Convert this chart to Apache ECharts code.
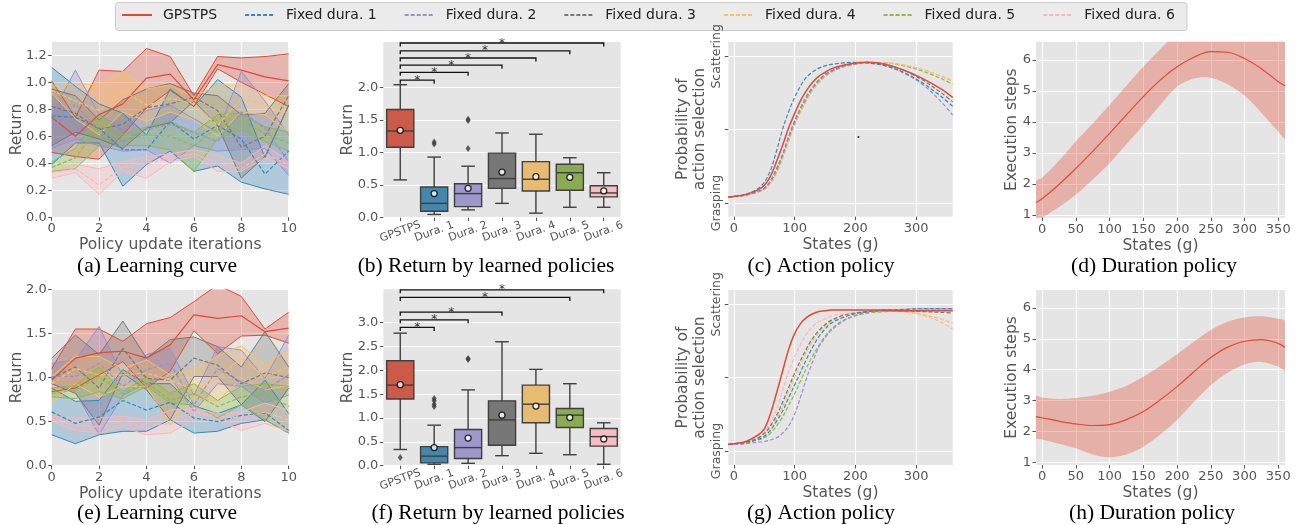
<!DOCTYPE html>
<html><head><meta charset="utf-8">
<script src="https://cdn.jsdelivr.net/npm/echarts@6/dist/echarts.min.js"></script>
<style>html,body{margin:0;padding:0;background:#fff}#chart{width:1301px;height:525px}</style>
</head><body><div id="chart"></div>
<script>
// ---------------- data ----------------
const seriesNames = ['GPSTPS','Fixed dura. 1','Fixed dura. 2','Fixed dura. 3','Fixed dura. 4','Fixed dura. 5','Fixed dura. 6'];
const lineColors = ['#E24A33','#348ABD','#988ED5','#777777','#FBC15E','#8EBA42','#FFB5B8'];
const boxColors = ['#cc5a49','#4586ac','#9e97cc','#777777','#e7bc72','#8aab51','#f6bec1'];
const captions = ['(a) Learning curve','(b) Return by learned policies','(c) Action policy','(d) Duration policy',
                  '(e) Learning curve','(f) Return by learned policies','(g) Action policy','(h) Duration policy'];

// learning curves (a) and (e)
const iterations = [0,1,2,3,4,5,6,7,8,9,10];
const aMean = [
 [0.74,0.60,0.76,0.84,1.03,1.06,0.87,1.13,1.09,1.04,1.01],
 [0.75,0.74,0.66,0.50,0.50,0.71,0.58,0.68,0.58,0.32,0.49],
 [0.66,0.84,0.63,0.56,0.65,0.69,0.63,0.56,0.78,0.66,0.41],
 [0.82,0.77,0.65,0.69,0.81,0.84,0.89,0.79,0.52,0.60,0.90],
 [0.94,0.86,0.79,0.94,0.83,0.88,0.84,0.68,0.88,0.83,0.77],
 [0.37,0.44,0.68,0.57,0.61,0.60,0.53,0.66,0.71,0.62,0.55],
 [0.33,0.36,0.24,0.37,0.40,0.44,0.47,0.40,0.36,0.47,0.39]
];
const aUpper = [
 [1.01,0.74,1.09,1.08,1.25,1.19,0.90,1.19,1.18,1.19,1.21],
 [1.11,0.97,0.84,0.77,0.61,0.95,0.82,1.02,0.89,0.44,0.83],
 [0.76,1.09,0.76,0.66,0.79,0.83,0.73,0.63,1.08,0.86,0.61],
 [0.95,0.90,0.72,0.87,0.95,0.99,0.92,0.90,0.76,0.77,0.99],
 [0.97,0.99,0.98,1.08,0.95,0.98,0.89,0.98,0.98,0.90,0.90],
 [0.41,0.51,0.76,0.61,0.67,0.71,0.63,0.76,0.77,0.67,0.63],
 [0.35,0.39,0.36,0.41,0.45,0.47,0.50,0.46,0.40,0.53,0.42]
];
const aLower = [
 [0.48,0.45,0.43,0.61,0.81,0.94,0.82,1.10,1.00,0.91,0.82],
 [0.39,0.55,0.55,0.23,0.39,0.49,0.34,0.38,0.26,0.21,0.17],
 [0.51,0.58,0.53,0.49,0.50,0.40,0.53,0.49,0.50,0.51,0.31],
 [0.53,0.63,0.58,0.51,0.66,0.70,0.86,0.68,0.29,0.45,0.83],
 [0.92,0.73,0.61,0.78,0.71,0.78,0.72,0.60,0.78,0.76,0.63],
 [0.34,0.36,0.53,0.53,0.53,0.50,0.34,0.58,0.65,0.56,0.49],
 [0.29,0.33,0.17,0.34,0.29,0.41,0.45,0.34,0.34,0.44,0.36]
];
const eMean = [
 [0.97,1.22,1.28,1.30,1.22,1.37,1.71,1.67,1.70,1.52,1.56],
 [0.61,0.48,0.55,0.74,0.63,0.72,0.54,0.50,0.57,0.60,0.40],
 [1.01,1.01,1.16,0.90,1.09,1.16,0.69,1.10,0.95,0.86,1.03],
 [0.99,1.12,0.88,1.33,0.99,0.97,1.22,1.14,0.93,1.05,1.00],
 [0.93,1.10,1.03,1.03,1.05,0.97,0.86,0.99,1.22,1.01,1.12],
 [0.82,0.86,1.01,0.82,0.95,0.74,0.82,0.67,0.78,0.82,0.67],
 [0.52,0.46,0.44,0.50,0.44,0.48,0.61,0.56,0.54,0.61,0.52]
];
const eUpper = [
 [1.10,1.55,1.55,1.41,1.61,1.68,1.86,2.05,1.92,1.55,1.74],
 [0.88,0.73,0.74,1.09,0.93,0.93,0.68,0.59,0.69,0.97,0.59],
 [1.16,1.20,1.58,1.01,1.26,1.33,0.80,1.35,1.31,0.99,1.48],
 [1.22,1.48,1.26,1.64,1.22,1.43,1.46,1.35,1.12,1.52,1.12],
 [1.01,1.24,1.24,1.10,1.20,1.03,1.09,1.24,1.36,1.14,1.33],
 [0.88,0.91,1.12,0.84,1.01,0.82,0.93,0.74,0.90,0.93,0.90],
 [0.56,0.54,0.54,0.56,0.52,0.63,0.65,0.59,0.61,0.71,0.63]
];
const eLower = [
 [0.84,0.88,1.03,1.18,0.88,1.07,1.53,1.27,1.47,1.48,1.39],
 [0.35,0.25,0.35,0.39,0.39,0.52,0.37,0.39,0.48,0.52,0.37],
 [0.93,0.84,0.35,0.80,0.93,1.01,0.61,0.93,0.90,0.71,0.80],
 [0.93,0.82,0.46,1.05,0.86,0.52,1.01,1.01,0.69,0.50,0.88],
 [0.71,0.93,0.78,0.90,0.90,0.46,0.78,0.73,0.99,0.86,0.91],
 [0.78,0.76,0.84,0.76,0.90,0.71,0.69,0.54,0.69,0.52,0.37],
 [0.50,0.40,0.37,0.44,0.35,0.37,0.52,0.52,0.40,0.48,0.39]
];
const learnXTicks = [0,2,4,6,8,10];
const aYTicks = [0,0.2,0.4,0.6,0.8,1.0,1.2];
const eYTicks = [0,0.5,1.0,1.5,2.0];

// box plots (b) and (f)
const boxCategories = ['GPSTPS','Dura. 1','Dura. 2','Dura. 3','Dura. 4','Dura. 5','Dura. 6'];
const bLow  = [0.58,0.05,0.12,0.22,0.07,0.16,0.16];
const bQ1   = [1.08,0.10,0.17,0.45,0.41,0.42,0.32];
const bMed  = [1.33,0.22,0.37,0.60,0.59,0.69,0.38];
const bQ3   = [1.66,0.47,0.52,0.99,0.86,0.82,0.49];
const bHigh = [2.04,0.93,0.79,1.30,1.28,0.92,0.69];
const bMeans = [1.34,0.37,0.45,0.70,0.63,0.62,0.41];
const bOutliers = [[1,1.13],[1,1.16],[2,1.06],[2,1.49],[2,1.51]];
const bBracketTo = [1,2,3,4,5,6];
const bBracketY = [2.11,2.23,2.34,2.45,2.56,2.68];
const bYTicks = [0,0.5,1.0,1.5,2.0];

const fLow  = [0.34,0.03,0.05,0.21,0.26,0.23,0.03];
const fQ1   = [1.40,0.06,0.15,0.43,0.90,0.80,0.41];
const fMed  = [1.69,0.20,0.38,0.96,1.29,1.06,0.61];
const fQ3   = [2.20,0.40,0.76,1.36,1.69,1.20,0.78];
const fHigh = [2.78,0.85,1.59,2.60,2.02,1.72,0.90];
const fMeans = [1.70,0.38,0.58,1.06,1.25,1.01,0.56];
const fOutliers = [[0,0.17],[1,1.24],[1,1.29],[1,1.36],[1,1.41],[2,2.23],[2,2.25]];
const fBracketTo = [1,2,3,5,6];
const fBracketY = [2.90,3.06,3.22,3.53,3.69];
const fYTicks = [0,0.5,1.0,1.5,2.0,2.5,3.0];

// action policies (c) and (g)
const statesX = [-9,0,20,40,50,60,70,80,90,100,110,120,130,140,150,160,180,200,220,250,280,310,340,360];
const cCurves = [
 [0.04,0.045,0.058,0.09,0.12,0.18,0.28,0.39,0.51,0.61,0.70,0.77,0.825,0.865,0.89,0.915,0.94,0.955,0.96,0.945,0.905,0.85,0.78,0.72],
 [0.04,0.045,0.06,0.10,0.14,0.22,0.35,0.50,0.62,0.72,0.80,0.86,0.895,0.92,0.935,0.945,0.955,0.96,0.955,0.935,0.89,0.82,0.73,0.66],
 [0.04,0.045,0.055,0.078,0.098,0.145,0.22,0.32,0.44,0.55,0.645,0.725,0.785,0.835,0.87,0.895,0.93,0.948,0.958,0.935,0.885,0.81,0.695,0.60],
 [0.04,0.045,0.055,0.08,0.10,0.15,0.23,0.33,0.45,0.56,0.65,0.73,0.79,0.84,0.875,0.90,0.935,0.95,0.96,0.945,0.905,0.84,0.755,0.69],
 [0.04,0.045,0.055,0.075,0.09,0.13,0.20,0.30,0.42,0.53,0.62,0.70,0.77,0.82,0.86,0.89,0.925,0.945,0.955,0.955,0.94,0.91,0.865,0.83],
 [0.04,0.045,0.055,0.077,0.095,0.14,0.21,0.31,0.43,0.54,0.63,0.71,0.775,0.825,0.865,0.895,0.93,0.948,0.957,0.955,0.935,0.90,0.85,0.81],
 [0.04,0.045,0.055,0.076,0.093,0.135,0.205,0.305,0.425,0.535,0.625,0.705,0.772,0.822,0.862,0.892,0.928,0.947,0.956,0.956,0.94,0.91,0.868,0.835]
];
const gCurves = [
 [0.045,0.05,0.065,0.11,0.15,0.25,0.39,0.54,0.69,0.80,0.87,0.91,0.935,0.95,0.955,0.96,0.96,0.96,0.96,0.96,0.955,0.955,0.955,0.955],
 [0.045,0.05,0.06,0.08,0.10,0.14,0.20,0.27,0.36,0.45,0.54,0.63,0.71,0.78,0.83,0.87,0.91,0.935,0.95,0.96,0.965,0.97,0.97,0.97],
 [0.045,0.045,0.05,0.06,0.065,0.075,0.09,0.12,0.17,0.25,0.37,0.50,0.61,0.71,0.77,0.82,0.885,0.925,0.945,0.96,0.965,0.97,0.97,0.97],
 [0.045,0.05,0.06,0.09,0.12,0.17,0.24,0.33,0.43,0.53,0.62,0.70,0.77,0.82,0.86,0.89,0.925,0.94,0.95,0.955,0.955,0.95,0.945,0.94],
 [0.045,0.05,0.06,0.085,0.11,0.16,0.22,0.30,0.40,0.50,0.59,0.68,0.75,0.81,0.85,0.88,0.92,0.94,0.95,0.955,0.95,0.93,0.90,0.87],
 [0.045,0.05,0.055,0.075,0.09,0.12,0.17,0.23,0.31,0.39,0.48,0.57,0.65,0.72,0.78,0.83,0.89,0.92,0.94,0.95,0.955,0.96,0.96,0.96],
 [0.045,0.05,0.06,0.10,0.13,0.19,0.28,0.41,0.54,0.64,0.73,0.80,0.85,0.88,0.90,0.92,0.935,0.945,0.955,0.96,0.95,0.925,0.88,0.83]
];
const cStrayPoint = [[205,0.45]];
const policyXTicks = [0,100,200,300];
const policyYTicks = [0,0.5,1];
const policyYLabels = ['Grasping','','Scattering'];

// duration policies (d) and (h)
const durX = [-9,0,25,50,75,100,125,150,175,200,225,250,275,300,325,350,360];
const dMean  = [1.40,1.52,1.98,2.50,3.05,3.63,4.23,4.82,5.35,5.78,6.09,6.27,6.25,6.05,5.72,5.30,5.17];
const dUpper = [2.08,2.20,2.75,3.37,3.95,4.55,5.17,5.78,6.35,6.85,7.20,7.35,7.35,7.20,7.00,6.85,6.80];
const dLower = [0.78,0.91,1.25,1.65,2.14,2.67,3.28,3.90,4.55,5.14,5.40,5.43,5.22,4.85,4.30,3.69,3.47];
const hMean  = [2.48,2.44,2.33,2.24,2.19,2.22,2.38,2.64,3.02,3.45,3.93,4.39,4.73,4.92,4.97,4.85,4.72];
const hUpper = [3.14,3.10,3.05,3.08,3.15,3.28,3.48,3.77,4.12,4.50,4.90,5.28,5.55,5.69,5.73,5.65,5.57];
const hLower = [1.78,1.74,1.60,1.45,1.25,1.16,1.25,1.50,1.90,2.37,2.95,3.50,3.90,4.17,4.25,4.10,3.98];
const durXTicks = [0,50,100,150,200,250,300,350];
const durYTicks = [1,2,3,4,5,6];

// ---------------- layout / style ----------------
const FONT = 'DejaVu Sans';
const TICK = '#555555';
const gridRects = [
 {left:51.7, top:41.7, width:237, height:175.6},
 {left:383.3, top:41.7, width:237.4, height:176},
 {left:728.3, top:41.7, width:224.4, height:175},
 {left:1036, top:41.7, width:249, height:176},
 {left:51.7, top:289.3, width:237, height:176.4},
 {left:383.3, top:289.3, width:237.4, height:176.4},
 {left:728.3, top:290, width:224.4, height:175},
 {left:1036, top:290, width:249, height:175}
];
const grids = gridRects.map(g => Object.assign({show:true, backgroundColor:'#E5E5E5', borderWidth:0, containLabel:false, outerBoundsMode:'none'}, g));

function valAxis(gi, min, max, ticks, fmt, name, gap, labelExtra, nameExtra) {
  return {
    gridIndex: gi, type:'value', min:min, max:max,
    axisLine:{show:false, onZero:false},
    axisTick:{show:true, length:3.5, lineStyle:{color:TICK, width:1}, customValues: ticks},
    axisLabel:Object.assign({customValues: ticks, formatter: fmt, color:TICK, fontFamily:FONT, fontSize:13, margin:5}, labelExtra || {}),
    splitLine:{show:true, lineStyle:{color:'#ffffff', width:1.1}},
    name:name, nameLocation:'middle', nameGap:gap, nameMoveOverlap:false,
    nameTextStyle:Object.assign({color:TICK, fontFamily:FONT, fontSize:15.5}, nameExtra || {})
  };
}
function catAxis(gi) {
  return {
    gridIndex: gi, type:'category', data: boxCategories, boundaryGap:true,
    axisLine:{show:false, onZero:false},
    axisTick:{show:true, alignWithLabel:true, length:3.5, lineStyle:{color:TICK}},
    axisLabel:{rotate:20, align:'center', verticalAlign:'middle', margin:14, fontSize:11, color:TICK, fontFamily:FONT, interval:0},
    splitLine:{show:false}
  };
}
const f1 = v => v.toFixed(1);
const f0 = v => String(v);
const policyFmt = v => policyYLabels[policyYTicks.indexOf(v)] || '';

const xAxes = [
  valAxis(0, 0, 10, learnXTicks, f0, 'Policy update iterations', 20),
  catAxis(1),
  valAxis(2, -9, 360, policyXTicks, f0, 'States (g)', 20),
  valAxis(3, -9, 360, durXTicks, f0, 'States (g)', 20),
  valAxis(4, 0, 10, learnXTicks, f0, 'Policy update iterations', 20),
  catAxis(5),
  valAxis(6, -9, 360, policyXTicks, f0, 'States (g)', 20),
  valAxis(7, -9, 360, durXTicks, f0, 'States (g)', 20)
];
const policyLabel = {rotate:90, fontSize:12.5};
const policyName = {lineHeight:17};
const yAxes = [
  valAxis(0, 0, 1.3, aYTicks, f1, 'Return', 27),
  valAxis(1, 0, 2.7, bYTicks, f1, 'Return', 27),
  valAxis(2, -0.093, 1.1, policyYTicks, policyFmt, 'Probability of\naction selection', 20, policyLabel, policyName),
  valAxis(3, 0.91, 6.59, durYTicks, f0, 'Execution steps', 16),
  valAxis(4, 0, 2.0, eYTicks, f1, 'Return', 27),
  valAxis(5, 0, 3.7, fYTicks, f1, 'Return', 27),
  valAxis(6, -0.095, 1.097, policyYTicks, policyFmt, 'Probability of\naction selection', 20, policyLabel, policyName),
  valAxis(7, 0.91, 6.58, durYTicks, f0, 'Execution steps', 16)
];

// ---------------- series builders ----------------
// band between lower (dim 1) and upper (dim 2), drawn once as a polygon through the axis scales
function bandRenderer(color, opacity, smooth) {
  return function (params, api) {
    if (params.dataIndexInside !== 0) return null;
    const n = params.dataInsideLength;
    const up = [], lo = [];
    for (let j = 0; j < n; j++) {
      up.push(api.coord([api.value(0, j), api.value(2, j)]));
      lo.push(api.coord([api.value(0, j), api.value(1, j)]));
    }
    return {type:'polygon', shape:{points: up.concat(lo.reverse()), smooth: smooth},
            style:{fill: color, opacity: opacity}};
  };
}
function bandSeries(gi, xs, lower, upper, color, opacity, smooth) {
  return {type:'custom', xAxisIndex:gi, yAxisIndex:gi, silent:true, clip:true, z:1,
    renderItem: bandRenderer(color, opacity, smooth), encode:{x:0, y:[1,2]},
    data: xs.map((x,j) => [x, lower[j], upper[j]])};
}
function learningSeries(gi, mean, upper, lower) {
  const out = [];
  for (let k = 0; k < 7; k++) {
    const c = lineColors[k];
    out.push(bandSeries(gi, iterations, lower[k], upper[k], c, 0.3, 0));
    out.push({type:'line', xAxisIndex:gi, yAxisIndex:gi, symbol:'none', silent:true, z:2,
      data: iterations.map((x,j) => [x, lower[k][j]]), lineStyle:{color:c, width:1}});
    out.push({type:'line', xAxisIndex:gi, yAxisIndex:gi, symbol:'none', silent:true, z:2,
      data: iterations.map((x,j) => [x, upper[k][j]]), lineStyle:{color:c, width:1}});
    out.push({name:seriesNames[k], type:'line', xAxisIndex:gi, yAxisIndex:gi, symbol:'none', silent:true, z:3,
      data: iterations.map((x,j) => [x, mean[k][j]]),
      lineStyle:{color:c, width:1.2, type: k === 0 ? 'solid' : [4,2]}});
  }
  return out;
}
function policySeries(gi, curves) {
  const out = [];
  for (let k = 6; k >= 0; k--) {
    out.push({name:seriesNames[k], type:'line', xAxisIndex:gi, yAxisIndex:gi, symbol:'none', silent:true,
      smooth:0.35, z: k === 0 ? 4 : 3,
      data: statesX.map((x,j) => [x, curves[k][j]]),
      lineStyle:{color:lineColors[k], width: k === 0 ? 1.5 : 1.2, type: k === 0 ? 'solid' : [4,2]}});
  }
  return out;
}
function durationSeries(gi, mean, upper, lower) {
  return [
    bandSeries(gi, durX, lower, upper, '#E24A33', 0.34, 0.3),
    {type:'line', xAxisIndex:gi, yAxisIndex:gi, symbol:'none', smooth:0.35, silent:true, z:3,
     data: durX.map((x,j) => [x, mean[j]]), lineStyle:{color:'#E24A33', width:1.2}}
  ];
}
function renderBox(params, api) {
  const i = api.value(0);
  const pLo = api.coord([i, api.value(1)]), pQ1 = api.coord([i, api.value(2)]);
  const pMd = api.coord([i, api.value(3)]), pQ3 = api.coord([i, api.value(4)]);
  const pHi = api.coord([i, api.value(5)]);
  const bw = api.size([1, 0])[0] * 0.8;
  const cx = pMd[0];
  const stroke = '#3f3f3f', lw = 1.4;
  const ln = (x1,y1,x2,y2) => ({type:'line', shape:{x1,y1,x2,y2}, style:{stroke, lineWidth:lw}});
  return {type:'group', children:[
    ln(cx, pQ3[1], cx, pHi[1]),
    ln(cx, pQ1[1], cx, pLo[1]),
    ln(cx - bw/4, pHi[1], cx + bw/4, pHi[1]),
    ln(cx - bw/4, pLo[1], cx + bw/4, pLo[1]),
    {type:'rect', shape:{x:cx - bw/2, y:pQ3[1], width:bw, height:pQ1[1] - pQ3[1]},
     style:{fill:boxColors[params.dataIndex], stroke, lineWidth:lw}},
    ln(cx - bw/2, pMd[1], cx + bw/2, pMd[1])
  ]};
}
function renderBracket(params, api) {
  const y = api.value(1);
  const p0 = api.coord([api.value(0), y]);
  const p1 = api.coord([api.value(2), y]);
  const drop = 3.5;
  return {type:'group', children:[
    {type:'polyline', shape:{points:[[p0[0], p0[1] + drop],[p0[0], p0[1]],[p1[0], p1[1]],[p1[0], p1[1] + drop]]},
     style:{stroke:'#111', lineWidth:1.3, fill:null}},
    {type:'text', x:(p0[0] + p1[0]) / 2, y:p0[1] + 0.5,
     style:{text:'*', fill:'#333', font:'12px "DejaVu Sans"', align:'center', verticalAlign:'middle'}}
  ]};
}
function boxSeries(gi, low, q1, med, q3, high, means, outliers, bTo, bY) {
  return [
    {type:'custom', xAxisIndex:gi, yAxisIndex:gi, renderItem:renderBox, silent:true, z:2,
     encode:{x:0, y:[1,2,3,4,5]},
     data: boxCategories.map((c,i) => [i, low[i], q1[i], med[i], q3[i], high[i]])},
    {type:'scatter', xAxisIndex:gi, yAxisIndex:gi, silent:true, z:4, symbol:'diamond', symbolSize:[5,7],
     itemStyle:{color:'#3d3d3d'}, data: outliers},
    {type:'scatter', xAxisIndex:gi, yAxisIndex:gi, silent:true, z:5, symbol:'circle', symbolSize:6,
     itemStyle:{color:'#ffffff', borderColor:'#000000', borderWidth:1.3}, data: means.map((v,i) => [i, v])},
    {type:'custom', xAxisIndex:gi, yAxisIndex:gi, renderItem:renderBracket, silent:true, clip:false, z:5,
     encode:{x:[0,2], y:1},
     data: bTo.map((t,i) => [0, bY[i], t])}
  ];
}

const series = [].concat(
  learningSeries(0, aMean, aUpper, aLower),
  boxSeries(1, bLow, bQ1, bMed, bQ3, bHigh, bMeans, bOutliers, bBracketTo, bBracketY),
  policySeries(2, cCurves),
  [{type:'scatter', xAxisIndex:2, yAxisIndex:2, silent:true, symbolSize:2, itemStyle:{color:'#000'}, data:cStrayPoint}],
  durationSeries(3, dMean, dUpper, dLower),
  learningSeries(4, eMean, eUpper, eLower),
  boxSeries(5, fLow, fQ1, fMed, fQ3, fHigh, fMeans, fOutliers, fBracketTo, fBracketY),
  policySeries(6, gCurves),
  durationSeries(7, hMean, hUpper, hLower)
);

const captionX = [157, 486, 821, 1154, 157, 498, 821, 1152];
const captionY = [266, 513];
const graphics = [
  {type:'rect', silent:true, z:-1, shape:{x:115.5, y:2.5, width:1071.5, height:28, r:3},
   style:{fill:'#ebebeb', stroke:'#cccccc', lineWidth:1}}
].concat(captions.map((t, i) => ({
  type:'text', x: captionX[i], y: captionY[Math.floor(i / 4)], silent:true,
  style:{text:t, fill:'#000', font:'21.5px "Liberation Serif"', align:'center', verticalAlign:'middle'}
})));

const option = {
  animation:false,
  backgroundColor:'#ffffff',
  legend:{
    left:115, top:2, orient:'horizontal',
    itemWidth:30, itemHeight:12, itemGap:27,
    padding:[6,0,6,6],
    textStyle:{fontFamily:FONT, fontSize:14, color:'#222', padding:[0,0,0,6]},
    data: seriesNames.map((n,k) => ({name:n,
      lineStyle:{color:lineColors[k], width:2, type: k === 0 ? 'solid' : [4,2]},
      itemStyle:{color:lineColors[k], opacity:0, borderWidth:0}}))
  },
  grid: grids,
  xAxis: xAxes,
  yAxis: yAxes,
  series: series,
  graphic: graphics
};

const chart = echarts.init(document.getElementById('chart'), null, {renderer:'canvas'});
chart.setOption(option);
</script></body></html>
